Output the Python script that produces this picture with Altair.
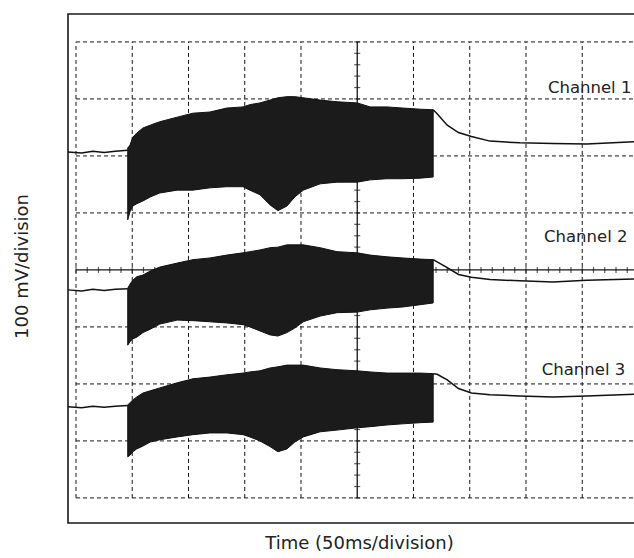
import altair as alt
import numpy as np
import pandas as pd

# Oscilloscope record: 10 x 8 divisions, three channels.
# Time in divisions (50 ms/div), voltage in divisions (100 mV/div).

burst_t = [0.92, 0.96, 1.01, 1.08, 1.19, 1.32, 1.49, 1.80, 2.08, 2.38, 2.68, 2.97, 3.09, 3.27,
           3.45, 3.59, 3.75, 3.89, 4.04, 4.34, 4.64, 5.00, 5.23, 5.53, 5.81, 6.12, 6.35]

ch1_hi = [6.14, 6.19, 6.33, 6.40, 6.49, 6.54, 6.60, 6.68, 6.75, 6.77, 6.84, 6.86, 6.90, 6.93,
          6.98, 7.02, 7.04, 7.04, 7.02, 6.98, 6.95, 6.93, 6.86, 6.86, 6.84, 6.82, 6.81]
ch1_lo = [4.88, 5.02, 5.12, 5.16, 5.21, 5.28, 5.35, 5.40, 5.40, 5.44, 5.46, 5.46, 5.40, 5.32,
          5.14, 5.04, 5.12, 5.28, 5.40, 5.51, 5.54, 5.54, 5.58, 5.60, 5.60, 5.61, 5.63]
ch2_hi = [3.68, 3.75, 3.82, 3.88, 3.91, 3.98, 4.05, 4.12, 4.18, 4.21, 4.26, 4.30, 4.32, 4.35,
          4.39, 4.40, 4.44, 4.44, 4.44, 4.39, 4.32, 4.30, 4.26, 4.23, 4.21, 4.19, 4.18]
ch2_lo = [2.68, 2.74, 2.79, 2.82, 2.90, 2.96, 3.05, 3.12, 3.11, 3.09, 3.07, 3.04, 3.00, 2.93,
          2.86, 2.84, 2.90, 2.98, 3.09, 3.19, 3.25, 3.26, 3.30, 3.33, 3.35, 3.39, 3.42]
ch3_hi = [1.63, 1.67, 1.72, 1.77, 1.84, 1.88, 1.93, 2.02, 2.09, 2.12, 2.16, 2.19, 2.21, 2.23,
          2.28, 2.30, 2.33, 2.33, 2.33, 2.28, 2.25, 2.23, 2.21, 2.19, 2.19, 2.19, 2.18]
ch3_lo = [0.72, 0.75, 0.81, 0.86, 0.91, 0.98, 1.02, 1.07, 1.11, 1.14, 1.14, 1.11, 1.07, 1.00,
          0.90, 0.81, 0.86, 0.98, 1.07, 1.16, 1.19, 1.23, 1.25, 1.28, 1.30, 1.32, 1.33]

pre_t = [-0.14, 0.10, 0.30, 0.50, 0.70, 0.92]
ch1_pre = [6.07, 6.05, 6.08, 6.06, 6.08, 6.10]
ch2_pre = [3.65, 3.63, 3.66, 3.64, 3.66, 3.67]
ch3_pre = [1.60, 1.58, 1.61, 1.59, 1.61, 1.62]

post_t = [6.35, 6.42, 6.60, 6.80, 7.03, 7.36, 7.89, 8.48, 9.08, 9.92]
ch1_post = [6.81, 6.74, 6.54, 6.41, 6.34, 6.26, 6.23, 6.22, 6.21, 6.25]
ch2_post = [4.18, 4.14, 4.04, 3.92, 3.87, 3.83, 3.81, 3.79, 3.82, 3.84]
ch3_post = [2.18, 2.17, 2.07, 1.92, 1.84, 1.81, 1.79, 1.77, 1.79, 1.82]

channel_names = ["Channel 1", "Channel 2", "Channel 3"]
label_t = [8.39, 8.32, 8.28]
label_v = [7.10, 4.49, 2.16]

# ---- tables -------------------------------------------------------------
his = [ch1_hi, ch2_hi, ch3_hi]
los = [ch1_lo, ch2_lo, ch3_lo]
pres = [ch1_pre, ch2_pre, ch3_pre]
posts = [ch1_post, ch2_post, ch3_post]

burst_rows = []
trace_rows = []
for name, hi, lo, pre, post in zip(channel_names, his, los, pres, posts):
    for t, h, l in zip(burst_t, hi, lo):
        burst_rows.append({"t": t, "hi": h, "lo": l, "channel": name})
    for t, v in zip(pre_t, pre):
        trace_rows.append({"t": t, "v": v, "seg": name + " pre"})
    for t, v in zip(post_t, post):
        trace_rows.append({"t": t, "v": v, "seg": name + " post"})
bursts = pd.DataFrame(burst_rows)
traces = pd.DataFrame(trace_rows)
labels = pd.DataFrame({"t": label_t, "v": label_v, "text": channel_names})

v_grid = pd.DataFrame({"t": [0, 1, 2, 3, 4, 6, 7, 8, 9, 10]})
h_grid = pd.DataFrame({"v": [0, 1, 2, 3, 5, 6, 7, 8]})
center = pd.DataFrame({"t": [5], "v": [4]})
v_minor = pd.DataFrame({"v": np.round(np.arange(0, 8.01, 0.2), 2)})
h_minor = pd.DataFrame({"t": np.round(np.arange(0, 10.01, 0.2), 2)})
frame = pd.DataFrame({"k": [0]})

# ---- scales and axes ----------------------------------------------------
W, H = 566, 509
xs = alt.Scale(domain=[-0.142, 9.92], nice=False, zero=False)
ys = alt.Scale(domain=[-0.44, 8.49], nice=False, zero=False)
FONT = "DejaVu Sans"
INK = "#161616"

x_axis = alt.Axis(title="Time (50ms/division)", labels=False, ticks=False, domain=False,
                  grid=False, titleFont=FONT, titleFontSize=18, titleFontWeight="normal",
                  titleColor="#222", titleAlign="center",
                  titleX=291, titleY=25, titleBaseline="alphabetic")
y_axis = alt.Axis(title="100 mV/division", labels=False, ticks=False, domain=False,
                  grid=False, titleFont=FONT, titleFontSize=18, titleFontWeight="normal",
                  titleColor="#222", titleAngle=270, titleAlign="center",
                  titleBaseline="middle", titleX=-46, titleY=252)


def X(field=None, datum=None):
    if field is not None:
        return alt.X(field, scale=xs, axis=x_axis)
    return alt.X(datum=datum, scale=xs, axis=x_axis)


def Y(field=None, datum=None):
    if field is not None:
        return alt.Y(field, scale=ys, axis=y_axis)
    return alt.Y(datum=datum, scale=ys, axis=y_axis)


grid_v = alt.Chart(v_grid).mark_rule(color=INK, strokeWidth=1, strokeDash=[4, 3]).encode(
    x=X("t:Q"), y=Y(datum=0), y2=alt.datum(8),
)
grid_h = alt.Chart(h_grid).mark_rule(color=INK, strokeWidth=1, strokeDash=[4, 3]).encode(
    y=Y("v:Q"), x=X(datum=0), x2=alt.datum(10),
)
center_v = alt.Chart(center).mark_rule(color=INK, strokeWidth=1.3).encode(
    x=X("t:Q"), y=Y(datum=0), y2=alt.datum(8),
)
center_h = alt.Chart(center).mark_rule(color=INK, strokeWidth=1.3).encode(
    y=Y("v:Q"), x=X(datum=0), x2=alt.datum(10),
)
ticks_v = alt.Chart(v_minor).mark_tick(color=INK, orient="horizontal", size=6, thickness=1.2).encode(
    x=X(datum=5), y=Y("v:Q"),
)
ticks_h = alt.Chart(h_minor).mark_tick(color=INK, orient="vertical", size=6, thickness=1.2).encode(
    x=X("t:Q"), y=Y(datum=4),
)

# screen bezel: left, top and bottom edges (right edge runs past the page)
border = alt.Chart(frame).mark_rect(filled=False, stroke="#1a1a1a", strokeWidth=1.6).encode(
    x=alt.value(0), x2=alt.value(W + 60), y=alt.value(0), y2=alt.value(H),
)

burst_area = alt.Chart(bursts).mark_area(color="#1b1b1b", opacity=1, interpolate="linear",
                                         stroke="#111", strokeWidth=1).encode(
    x=X("t:Q"), y=Y("hi:Q"), y2="lo:Q", detail="channel:N",
)

trace_lines = alt.Chart(traces).mark_line(color="#111", strokeWidth=1.5).encode(
    x=X("t:Q"), y=Y("v:Q"), detail="seg:N",
)

channel_text = alt.Chart(labels).mark_text(align="left", baseline="alphabetic", font=FONT,
                                           fontSize=16.5, color="#222").encode(
    x=X("t:Q"), y=Y("v:Q"), text="text:N",
)

chart = alt.layer(
    grid_v, grid_h, center_v, center_h, ticks_v, ticks_h, border,
    burst_area, trace_lines, channel_text,
).properties(
    width=W, height=H,
    padding={"left": 68, "top": 14, "right": 0, "bottom": 35},
    autosize=alt.AutoSizeParams(type="none"),
    background="white",
).configure_view(strokeWidth=0)

chart.save("out.html", embed_options={"renderer": "svg", "actions": False})
